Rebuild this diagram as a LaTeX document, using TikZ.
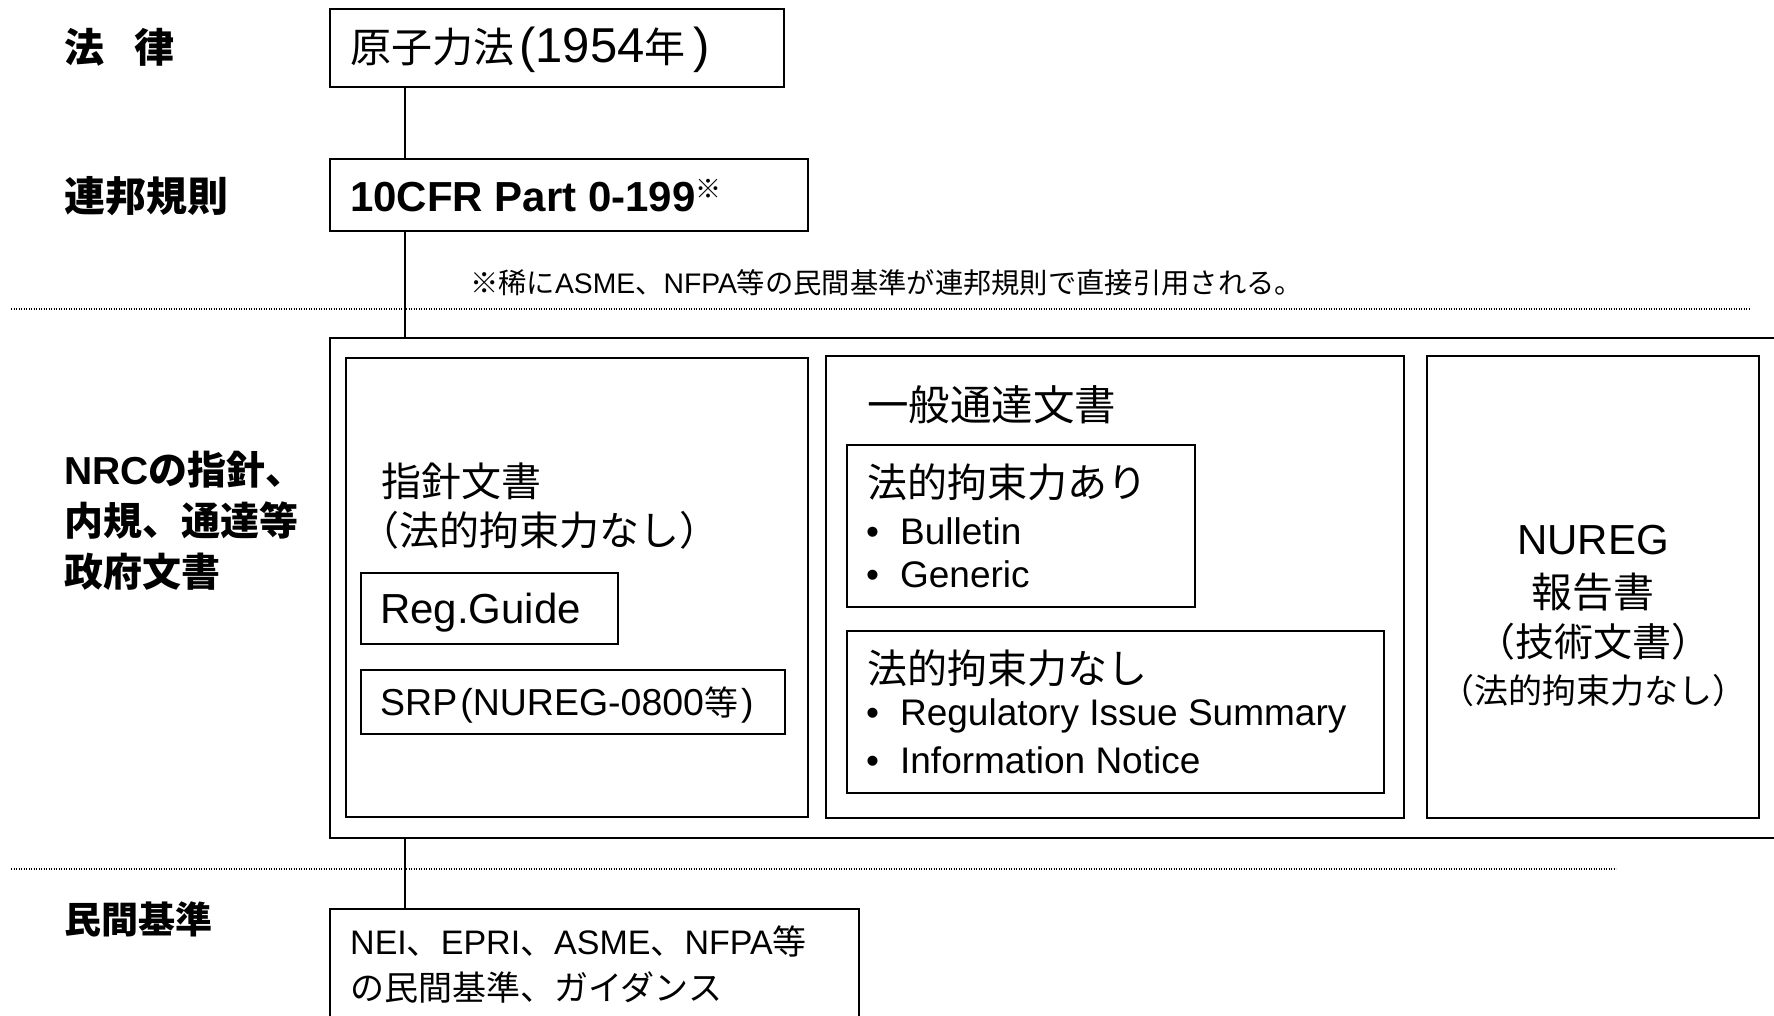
\documentclass[tikz,border=0pt]{standalone}
\usepackage{fontspec}
\setmainfont{Liberation Sans}
\newfontfamily\jp{Noto Sans CJK JP}
\newcommand\fsz[1]{\fontsize{#1}{#1}\selectfont}
\begin{document}
\begin{tikzpicture}[x=1pt,y=-1pt,
  box/.style={draw, line width=1.8pt, inner sep=0pt, anchor=north west},
  txt/.style={inner sep=0pt, anchor=west},
  ctxt/.style={inner sep=0pt, anchor=center},
  conn/.style={line width=1.3pt},
  sepline/.style={line width=1.4pt, dash pattern=on 1.2pt off 1.3pt}]
\useasboundingbox (0,0) rectangle (1774,1015);
\fill[white] (0,0) rectangle (1774,1015);

% separators
\draw[sepline] (11,309) -- (1750,309);
\draw[sepline] (11,869) -- (1616,869);

% left labels
\node[txt] (l1) at (64,47) {\fsz{40}\bfseries\jp 法\hspace{30pt}律};
\node[txt] (l2) at (64,196) {\fsz{41}\bfseries\jp 連邦規則};
\node[txt, align=left, font={\fontsize{39}{51}\selectfont\bfseries}] (l3) at (64,521) {NRC{\jp の指針、}\\{\jp 内規、通達等}\\{\jp 政府文書}};
\node[txt] (l4) at (64,919) {\fsz{37}\bfseries\jp 民間基準};

% boxes
\coordinate (cx) at (405,0);
\node[box, minimum width=454pt, minimum height=78pt] (law) at (329,8) {};
\node[box, minimum width=478pt, minimum height=72pt] (cfr) at (329,158) {};
\node[box, minimum width=1471pt, minimum height=500pt] (nrc) at (329,337) {};
\node[box, minimum width=462pt, minimum height=459pt] (guide) at (345,357) {};
\node[box, minimum width=578pt, minimum height=462pt] (gen) at (825,355) {};
\node[box, minimum width=348pt, minimum height=162pt] (bind) at (846,444) {};
\node[box, minimum width=537pt, minimum height=162pt] (nobind) at (846,630) {};
\node[box, minimum width=332pt, minimum height=462pt] (nureg) at (1426,355) {};
\node[box, minimum width=257pt, minimum height=71pt] (rg) at (360,572) {};
\node[box, minimum width=424pt, minimum height=64pt] (srp) at (360,669) {};
\node[box, minimum width=529pt, minimum height=140pt] (priv) at (329,908) {};

% connectors
\draw[conn] (law.south -| cx) -- (cfr.north -| cx);
\draw[conn] (cfr.south -| cx) -- (nrc.north -| cx);
\draw[conn] (nrc.south -| cx) -- (priv.north -| cx);

% texts
\node[txt] (lawt) at (350,50) {{\fsz{41}\jp 原子力法}\hspace{5pt}{\fsz{49}(1954}{\fsz{41}\jp 年}\hspace{8pt}{\fsz{49})}};
\node[txt] (cfrt) at (350,196) {\fsz{42}\bfseries 10CFR Part 0-199\raisebox{13pt}{\fsz{26}\mdseries\jp ※}};
\node[txt] (note) at (470,283) {\fsz{28.3}{\jp ※稀に}ASME{\jp 、}NFPA{\jp 等の民間基準が連邦規則で直接引用される。}};

\node[txt] (g1) at (381,481) {\fsz{40}\jp 指針文書};
\node[txt] (g2) at (359,530) {\fsz{40}\jp （法的拘束力なし）};
\node[txt] (rgt) at (380,613) {\fsz{42}Reg.Guide};
\node[txt] (srpt) at (380,705) {\fsz{37.5}SRP\hspace{3pt}(NUREG-0800{\fsz{34}\jp 等}\hspace{3pt})};

\node[txt] (gt) at (867,405) {\fsz{41.5}\jp 一般通達文書};
\node[txt] (bt) at (867,482) {\fsz{40}\jp 法的拘束力あり};
\node[txt] (b1) at (866,531) {\fsz{37}•\hspace{21pt}Bulletin};
\node[txt] (b2) at (866,574) {\fsz{37}•\hspace{21pt}Generic};
\node[txt] (nt) at (867,668) {\fsz{40}\jp 法的拘束力なし};
\node[txt] (n1) at (866,716) {\fsz{37}•\hspace{21pt}Regulatory Issue Summary};
\node[txt] (n2) at (866,760) {\fsz{37}•\hspace{21pt}Information Notice};

\node[ctxt] (r1) at (1593,540) {\fsz{42}NUREG};
\node[ctxt] (r2) at (1593,592) {\fsz{41}\jp 報告書};
\node[ctxt] (r3) at (1593,642) {\fsz{39}\jp （技術文書）};
\node[ctxt] (r4) at (1593,691) {\fsz{34}\jp （法的拘束力なし）};

\node[txt, align=left, font={\fontsize{34}{46}\selectfont}] (pt) at (350,964) {NEI{\jp 、}EPRI{\jp 、}ASME{\jp 、}NFPA{\jp 等}\\{\jp の民間基準、ガイダンス}};
\end{tikzpicture}
\end{document}
